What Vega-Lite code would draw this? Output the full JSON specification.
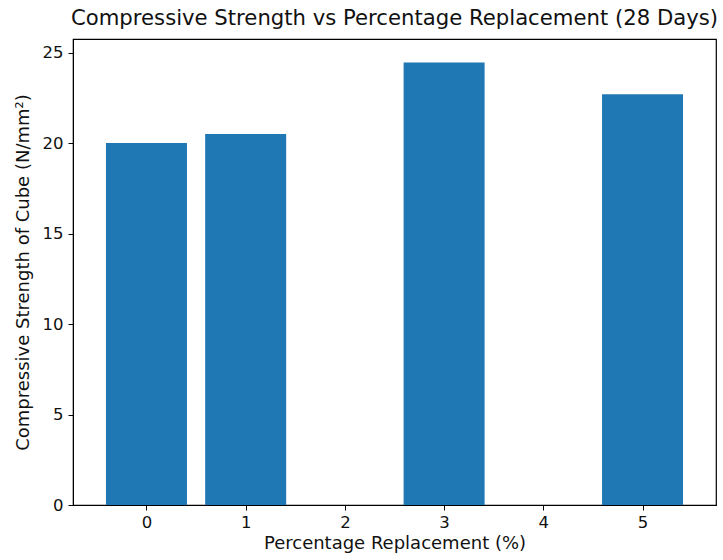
{
  "$schema": "https://vega.github.io/schema/vega-lite/v6.json",
  "width": 643,
  "height": 466,
  "autosize": {"type": "none"},
  "padding": {"left": 73, "top": 39, "right": 7, "bottom": 55},
  "background": "white",
  "title": {
    "text": "Compressive Strength vs Percentage Replacement (28 Days)",
    "font": "DejaVu Sans",
    "fontSize": 21.2,
    "fontWeight": "normal",
    "color": "#111",
    "anchor": "middle",
    "offset": 10
  },
  "config": {
    "view": {"stroke": "black", "strokeWidth": 1.2},
    "axis": {
      "labelFont": "DejaVu Sans",
      "titleFont": "DejaVu Sans",
      "labelFontSize": 16.5,
      "titleFontSize": 18,
      "titleFontWeight": "normal",
      "labelColor": "#111",
      "titleColor": "#111",
      "domainColor": "black",
      "tickColor": "black",
      "tickSize": 5,
      "grid": false
    }
  },
  "data": {
    "values": [
      {"replacement": 0, "strength": 20.0},
      {"replacement": 1, "strength": 20.5},
      {"replacement": 3, "strength": 24.45},
      {"replacement": 5, "strength": 22.7}
    ]
  },
  "mark": {"type": "bar", "size": 81, "color": "#1f77b4"},
  "encoding": {
    "x": {
      "field": "replacement",
      "type": "quantitative",
      "scale": {"domain": [-0.69, 5.69], "nice": false, "zero": false},
      "axis": {"values": [0, 1, 2, 3, 4, 5], "format": "d", "title": "Percentage Replacement (%)", "titlePadding": 4, "labelPadding": 4}
    },
    "y": {
      "field": "strength",
      "type": "quantitative",
      "scale": {"domain": [0, 25.75], "nice": false},
      "axis": {"values": [0, 5, 10, 15, 20, 25], "title": "Compressive Strength of Cube (N/mm²)", "titlePadding": 10, "labelPadding": 5}
    }
  }
}
